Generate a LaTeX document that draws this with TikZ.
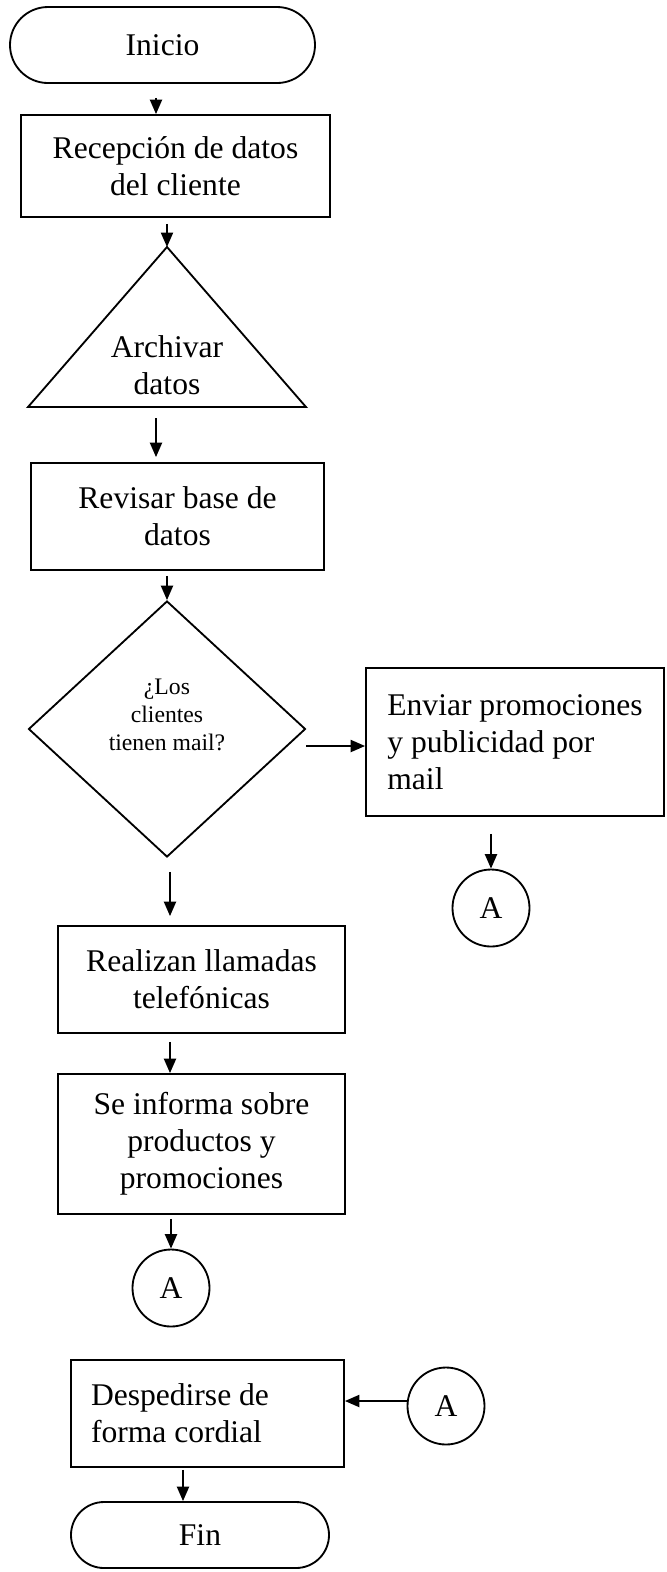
\documentclass[tikz,border=0pt]{standalone}
\usepackage{fontspec}
\setmainfont{Liberation Serif}
\usepackage{tikz}
\usetikzlibrary{shapes.geometric,shapes.misc,arrows.meta}
\newlength{\pxu}
\setlength{\pxu}{0.38pt}

\begin{document}
\begin{tikzpicture}[x=0.38pt,y=-0.38pt,line width=0.7pt,
  every node/.style={font=\fontsize{12}{14}\selectfont,inner sep=0pt},
  paso/.style={draw,rectangle,align=center},
  extremo/.style={draw,rounded rectangle},
  conector/.style={draw,circle,minimum size=77\pxu},
  arr/.style={-{Triangle[length=5.5pt,width=4.6pt]}}]
\useasboundingbox (0,0) rectangle (666,1572);
\node[extremo,minimum width=305\pxu,minimum height=76\pxu] (inicio) at (162.5,45) {Inicio};
\node[paso,minimum width=309\pxu,minimum height=102\pxu] (recepcion) at (175.5,166) {Recepción de datos\\del cliente};
\coordinate (archtop) at (167,247);
\coordinate (archbase) at (167,407);
\draw (archtop) -- (28,407) -- (306,407) -- cycle;
\node[align=center] (archivar) at (167,365) {Archivar\\datos};
\node[paso,minimum width=293\pxu,minimum height=107\pxu] (revisar) at (177.5,516.5) {Revisar base de\\datos};
\node[draw,diamond,minimum width=277\pxu,minimum height=256\pxu] (pregunta) at (167,729) {};
\node[align=center,font=\fontsize{9}{10.5}\selectfont] (preguntatxt) at (167,715) {¿Los\\clientes\\tienen mail?};
\node[paso,align=left,minimum width=298\pxu,minimum height=148\pxu] (enviar) at (515,742) {Enviar promociones\\y publicidad por\\mail};
\node[conector] (a1) at (491,908) {A};
\node[paso,minimum width=287\pxu,minimum height=107\pxu] (realizan) at (201.5,979.5) {Realizan llamadas\\telefónicas};
\node[paso,minimum width=287\pxu,minimum height=140\pxu] (informa) at (201.5,1144) {Se informa sobre\\productos y\\promociones};
\node[conector] (a2) at (171,1288) {A};
\node[paso,align=flush left,text width=233\pxu,minimum width=273\pxu,minimum height=107\pxu] (despedida) at (207.5,1413.5) {Despedirse de\\forma cordial};
\node[conector] (a3) at (446,1406) {A};
\node[extremo,minimum width=258\pxu,minimum height=66\pxu] (fin) at (200,1535) {Fin};
\draw[arr] ([shift={(-6.5,14)}]inicio.south) -- ([shift={(-19.5,0)}]recepcion.north);
\draw[arr] ([shift={(-8.5,6)}]recepcion.south) -- (archtop);
\draw[arr] ([shift={(-11,11)}]archbase) -- ([shift={(-21.5,-5)}]revisar.north);
\draw[arr] ([shift={(-10.5,5)}]revisar.south) -- (pregunta.north);
\draw[arr] ([shift={(0,17)}]pregunta.east) -- ([shift={(0,4)}]enviar.west);
\draw[arr] ([shift={(-24,17)}]enviar.south) -- (a1.north);
\draw[arr] ([shift={(3,14)}]pregunta.south) -- ([shift={(-31.5,-9)}]realizan.north);
\draw[arr] ([shift={(-31.5,8)}]realizan.south) -- ([shift={(-31.5,0)}]informa.north);
\draw[arr] ([shift={(-30.5,4)}]informa.south) -- (a2.north);
\draw[arr] ([shift={(0,-5)}]a3.west) -- ([shift={(0,-12.5)}]despedida.east);
\draw[arr] ([shift={(-24.5,2)}]despedida.south) -- ([shift={(-17,0)}]fin.north);
\end{tikzpicture}
\end{document}
